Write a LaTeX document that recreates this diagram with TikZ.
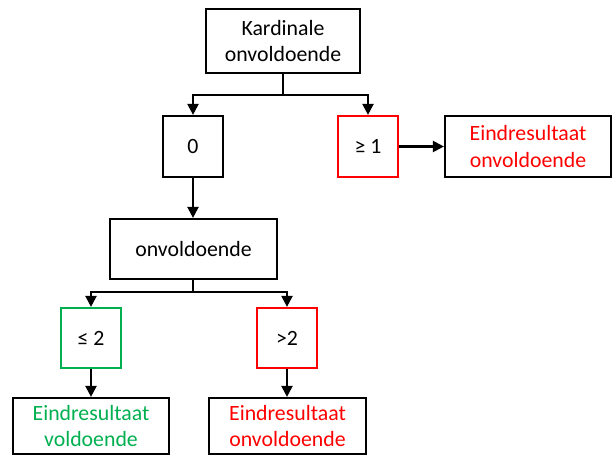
\documentclass[tikz,border=0pt]{standalone}
\usepackage{fontspec}
\setmainfont{Carlito}
\usetikzlibrary{arrows.meta}
\definecolor{okred}{RGB}{255,0,0}
\definecolor{okgreen}{RGB}{0,176,80}
\begin{document}
\begin{tikzpicture}[x=1pt,y=1pt,
  box/.style={draw=black,line width=2.2pt,minimum width=#1,inner sep=0pt,align=center,font=\fontsize{21.8}{26.5}\selectfont},
  box/.default=60pt,
  arr/.style={line width=2.2pt,-{Triangle[length=11pt,width=11pt]}},
  ln/.style={line width=2.2pt}]
\useasboundingbox (0,0) rectangle (616,459);
\node[box=154pt,minimum height=64pt] (K) at (283,418) {Kardinale\\onvoldoende};
\node[box=60pt,minimum height=61pt] (Z) at (193,312.5) {0};
\node[box=60pt,minimum height=61pt,draw=okred] (G) at (368,312.5) {≥ 1};
\node[box=166pt,minimum height=61pt,text=okred] (E1) at (528,312.5) {Eindresultaat\\onvoldoende};
\node[box=167pt,minimum height=60pt] (O) at (193.5,210) {onvoldoende};
\node[box=60pt,minimum height=60pt,draw=okgreen] (L) at (91,121) {≤ 2};
\node[box=60pt,minimum height=60pt,draw=okred] (R) at (287,121) {>2};
\node[box=156pt,minimum height=56pt,text=okgreen] (E2) at (91,33) {Eindresultaat\\voldoende};
\node[box=157pt,minimum height=56pt,text=okred] (E3) at (287.5,33) {Eindresultaat\\onvoldoende};
\draw[ln] (K.south) -- ++(0,-21) coordinate (k1);
\draw[arr] (k1) -| (Z.north);
\draw[arr] (k1) -| (G.north);
\draw[arr] (G.east) -- (E1.west);
\draw[arr] (Z.south) -- (O.north -| Z.south);
\draw[ln] (O.south -| Z.south) -- ++(0,-12) coordinate (o1);
\draw[arr] (o1) -| (L.north);
\draw[arr] (o1) -| (R.north);
\draw[arr] (L.south) -- (E2.north);
\draw[arr] (R.south) -- (E3.north -| R.south);
\end{tikzpicture}
\end{document}
